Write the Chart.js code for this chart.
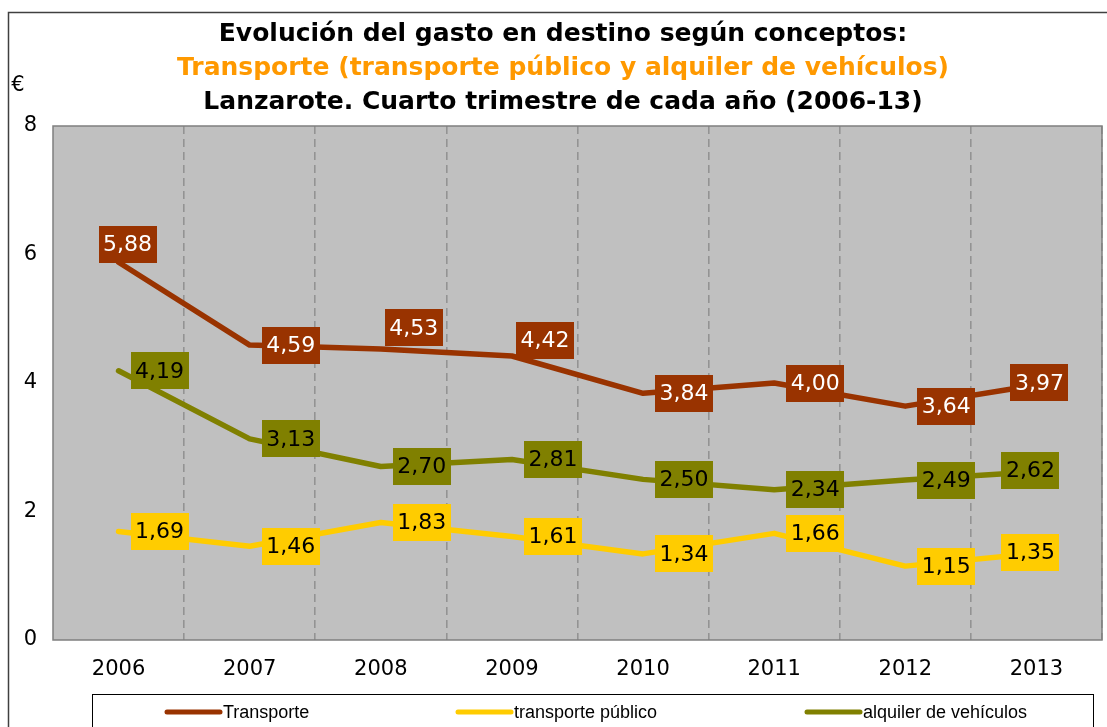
<!DOCTYPE html>
<html>
<head>
<meta charset="utf-8">
<script src="https://cdn.jsdelivr.net/npm/chart.js@4.4.1/dist/chart.umd.min.js"></script>
<style>
  html, body { margin: 0; padding: 0; background: #ffffff; }
  #wrap { width: 1107px; height: 727px; position: relative; }
</style>
</head>
<body>
<div id="wrap"><canvas id="c" width="1107" height="727"></canvas></div>
<script>
const years = ["2006", "2007", "2008", "2009", "2010", "2011", "2012", "2013"];
const transporte = [5.88, 4.59, 4.53, 4.42, 3.84, 4.00, 3.64, 3.97];
const transportePublico = [1.69, 1.46, 1.83, 1.61, 1.34, 1.66, 1.15, 1.35];
const alquilerVehiculos = [4.19, 3.13, 2.70, 2.81, 2.50, 2.34, 2.49, 2.62];
const yTicks = [0, 2, 4, 6, 8];
const seriesNames = ["Transporte", "transporte público", "alquiler de vehículos"];
const titleLines = ["Evolución del gasto en destino según conceptos:", "Transporte (transporte público y alquiler de vehículos)", "Lanzarote. Cuarto trimestre de cada año (2006-13)"];
const unitLabel = "€";

const colors = ["#993300", "#FFCC00", "#808000"];
const labelText = ["#ffffff", "#000000", "#000000"];

// label placement relative to point (dx, dy) — default to the right, last centred
function labelOffset(ds, i, n) {
  if (i === n - 1) return ds === 0 ? [3, -2] : [-6, -1];
  if (ds === 0 && i === 0) return [9, -18];
  if (ds === 0 && i === 2) return [33, -21];
  if (ds === 0 && i === 3) return [33, -16];
  return [41, 0];
}

const decorPlugin = {
  id: 'decor',
  beforeDraw(chart) {
    const ctx = chart.ctx, a = chart.chartArea;
    ctx.save();
    ctx.fillStyle = '#ffffff';
    ctx.fillRect(0, 0, chart.width, chart.height);
    ctx.strokeStyle = '#404040';
    ctx.lineWidth = 1.5;
    ctx.strokeRect(8.5, 12.5, 1300, 900);
    ctx.fillStyle = '#C0C0C0';
    ctx.fillRect(a.left, a.top, a.right - a.left, a.bottom - a.top);
    ctx.restore();
  },
  beforeDatasetsDraw(chart) {
    const ctx = chart.ctx, a = chart.chartArea;
    ctx.save();
    ctx.strokeStyle = '#7f7f7f';
    ctx.lineWidth = 1.5;
    ctx.strokeRect(a.left, a.top, a.right - a.left, a.bottom - a.top);
    ctx.restore();
  },
  afterDraw(chart) {
    const ctx = chart.ctx;
    ctx.save();
    ctx.textAlign = 'center';
    ctx.textBaseline = 'middle';
    ctx.font = 'bold 25px "DejaVu Sans"';
    const tc = ['#000000', '#FF9900', '#000000'];
    const ty = [34, 68, 102];
    titleLines.forEach((t, k) => { ctx.fillStyle = tc[k]; ctx.fillText(t, 563, ty[k]); });
    ctx.font = '21px "DejaVu Sans"';
    ctx.fillStyle = '#000000';
    ctx.fillText(unitLabel, 18, 86);

    ctx.font = '22px "DejaVu Sans"';
    chart.data.datasets.forEach((ds, di) => {
      const meta = chart.getDatasetMeta(di);
      meta.data.forEach((pt, i) => {
        const txt = ds.data[i].toFixed(2).replace('.', ',');
        const [dx, dy] = labelOffset(di, i, meta.data.length);
        const cx = pt.x + dx, cy = pt.y + dy;
        const w = ctx.measureText(txt).width + 9, h = 37;
        ctx.fillStyle = colors[di];
        ctx.fillRect(Math.round(cx - w / 2), Math.round(cy - h / 2), Math.round(w), h);
        ctx.fillStyle = labelText[di];
        ctx.textAlign = 'center';
        ctx.textBaseline = 'middle';
        ctx.fillText(txt, cx, cy + 1);
      });
    });

    ctx.strokeStyle = '#000000';
    ctx.lineWidth = 1;
    ctx.strokeRect(92.5, 694.5, 1001, 100);
    const lx = [165, 456, 805];
    ctx.font = '18px "Liberation Sans"';
    ctx.textAlign = 'left';
    ctx.textBaseline = 'middle';
    seriesNames.forEach((n, k) => {
      ctx.strokeStyle = colors[k];
      ctx.lineWidth = 5;
      ctx.lineCap = 'round';
      ctx.beginPath();
      ctx.moveTo(lx[k] + 2, 712);
      ctx.lineTo(lx[k] + 55, 712);
      ctx.stroke();
      ctx.fillStyle = '#000000';
      ctx.fillText(n, lx[k] + 58, 713);
    });
    ctx.restore();
  }
};

new Chart(document.getElementById('c'), {
  type: 'line',
  data: {
    labels: years,
    datasets: [
      { label: seriesNames[0], data: transporte, borderColor: colors[0] },
      { label: seriesNames[1], data: transportePublico, borderColor: colors[1] },
      { label: seriesNames[2], data: alquilerVehiculos, borderColor: colors[2] }
    ].map(d => Object.assign(d, {
      borderWidth: 5.5, pointRadius: 0, tension: 0, fill: false,
      borderJoinStyle: 'round', borderCapStyle: 'round'
    }))
  },
  options: {
    responsive: false,
    animation: false,
    devicePixelRatio: 1,
    layout: { padding: { top: 126, right: 5, left: 0, bottom: 0 } },
    plugins: { legend: { display: false }, title: { display: false }, tooltip: { enabled: false } },
    scales: {
      x: {
        offset: true,
        grid: {
          display: true, offset: true, drawTicks: false,
          color: c => (c.index === 0 || c.index === years.length) ? 'rgba(0,0,0,0)' : '#939393',
          lineWidth: 1.6
        },
        border: { display: false, dash: [8, 5] },
        ticks: { color: '#000000', font: { family: 'DejaVu Sans', size: 21 }, padding: 17, maxRotation: 0 },
        afterFit(s) { s.height = 87; }
      },
      y: {
        min: 0, max: 8,
        afterBuildTicks(s) { s.ticks = yTicks.map(v => ({ value: v })); },
        grid: { display: false, drawTicks: false },
        border: { display: false },
        ticks: { color: '#000000', font: { family: 'DejaVu Sans', size: 21 }, padding: 16 },
        afterFit(s) { s.width = 53; }
      }
    }
  },
  plugins: [decorPlugin]
});
</script>
</body>
</html>
